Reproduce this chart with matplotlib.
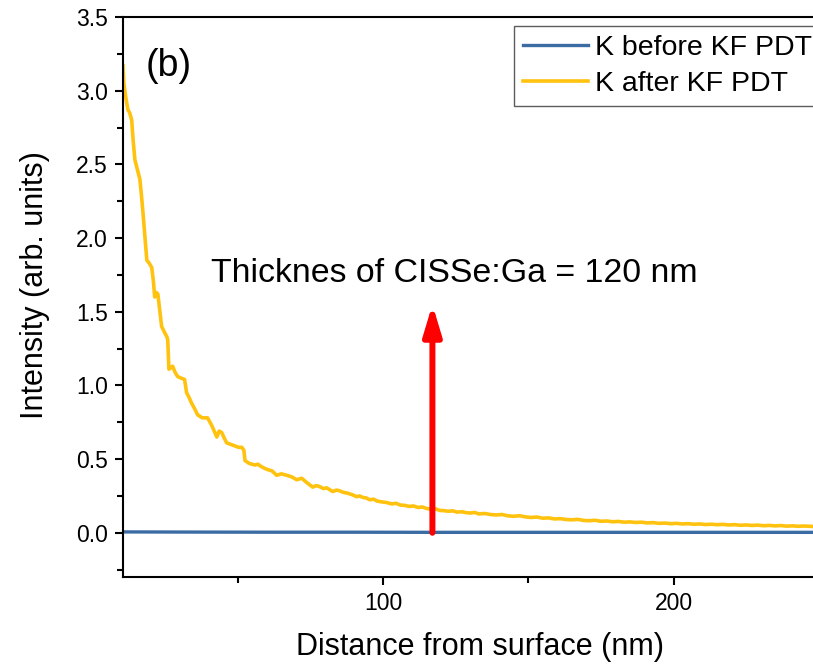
import matplotlib
matplotlib.use("Agg")
import matplotlib.pyplot as plt
from matplotlib.ticker import MultipleLocator, FormatStrFormatter

plt.rcParams['font.family'] = ['Liberation Sans', 'DejaVu Sans']

# K after KF PDT
x_after = [10.5, 10.8, 11.5, 12.2, 12.8, 13.5, 14.0, 14.6, 15.4, 16.3, 16.8, 17.3, 18.0,
           18.7, 19.5, 20.4, 21.0, 21.4, 22.0, 22.5, 23.2, 23.8, 24.8, 25.6, 25.9, 26.3,
           27.0, 27.6, 28.4, 29.3, 30.5, 31.7, 32.4, 33.2, 34.1, 35.2, 36.2, 37.8, 39.6,
           41.0, 42.8, 43.6, 44.5, 45.4, 46.2, 47.6, 49.0, 50.3, 51.4, 52.1, 52.5, 54.0,
           55.9, 57.0, 58.0, 59.0, 60.1, 61.8, 63.4, 65.0, 66.9, 68.5, 70.3, 72.0, 73.8,
           75.8, 77.0, 78.0, 79.5, 80.6, 82.7, 84.0, 85.0, 86.3, 87.5, 89.2, 90.9, 92.0,
           93.0, 94.3, 95.4, 96.8, 98.0, 99.5,
           101.3, 103.0, 104.5, 106.0, 107.5, 109.0, 110.5, 112.0, 113.5, 115.0, 116.5,
           118.0, 119.5, 121.0, 122.5, 124.0, 125.5, 127.0, 128.5, 130.0, 131.5, 133.0,
           135.0, 137.0, 139.0, 141.0, 143.0, 145.0, 147.0, 149.0, 151.0, 153.0, 155.0,
           157.0, 159.0, 161.0, 163.0, 165.0, 167.0, 169.0, 171.0, 173.0, 175.0, 177.0,
           179.0, 181.0, 183.0, 185.0, 187.0, 189.0, 191.0, 193.0, 195.0, 197.0, 199.0,
           201.0, 203.0, 205.0, 207.0, 209.0, 211.0, 213.0, 215.0, 217.0, 219.0, 221.0,
           223.0, 225.0, 227.0, 229.0, 231.0, 233.0, 235.0, 237.0, 239.0, 241.0, 243.0,
           245.0, 247.8]
y_after = [3.17, 3.05, 2.95, 2.87, 2.85, 2.80, 2.66, 2.53, 2.47, 2.40, 2.30, 2.19, 2.02,
           1.85, 1.83, 1.80, 1.70, 1.60, 1.63, 1.62, 1.50, 1.40, 1.36, 1.33, 1.31, 1.11,
           1.12, 1.13, 1.09, 1.06, 1.05, 1.04, 0.95, 0.92, 0.88, 0.84, 0.80, 0.78, 0.78,
           0.73, 0.65, 0.69, 0.68, 0.64, 0.61, 0.60, 0.59, 0.58, 0.58, 0.56, 0.49, 0.47,
           0.46, 0.465, 0.45, 0.44, 0.43, 0.42, 0.39, 0.40, 0.39, 0.38, 0.36, 0.37, 0.34,
           0.31, 0.32, 0.315, 0.30, 0.305, 0.28, 0.29, 0.285, 0.275, 0.27, 0.26, 0.245, 0.25,
           0.24, 0.236, 0.224, 0.228, 0.215, 0.21,
           0.205, 0.196, 0.200, 0.188, 0.186, 0.179, 0.182, 0.172, 0.175, 0.165, 0.160,
           0.163, 0.152, 0.150, 0.146, 0.149, 0.140, 0.143, 0.137, 0.134, 0.138, 0.128,
           0.131, 0.124, 0.121, 0.124, 0.115, 0.112, 0.116, 0.108, 0.104, 0.107, 0.099,
           0.101, 0.094, 0.096, 0.090, 0.088, 0.091, 0.084, 0.082, 0.085, 0.078, 0.080,
           0.075, 0.077, 0.072, 0.074, 0.070, 0.072, 0.067, 0.069, 0.064, 0.066, 0.062,
           0.064, 0.060, 0.062, 0.058, 0.060, 0.056, 0.058, 0.055, 0.057, 0.053, 0.055,
           0.051, 0.053, 0.050, 0.052, 0.048, 0.050, 0.047, 0.049, 0.045, 0.047, 0.044,
           0.046, 0.043]

# K before KF PDT
x_before = [10.5, 30.0, 60.0, 90.0, 120.0, 150.0, 180.0, 210.0, 247.8]
y_before = [0.006, 0.005, 0.004, 0.004, 0.003, 0.003, 0.003, 0.003, 0.003]

arrow_x = 117
arrow_y = (0.0, 1.55)
annotation = "Thicknes of CISSe:Ga = 120 nm"
panel = "(b)"

fig = plt.figure(figsize=(8.13, 6.65), dpi=100)
ax = fig.add_axes([123/813, 88/665, 1 - 123/813, (577-17)/665])

ax.plot(x_before, y_before, color='#3a6ca3', lw=2.4, label='K before KF PDT')
ax.plot(x_after, y_after, color='#ffc20e', lw=2.6, label='K after KF PDT')

ax.annotate('', xy=(arrow_x, arrow_y[1]), xytext=(arrow_x, arrow_y[0]),
            arrowprops=dict(arrowstyle='-|>,head_length=0.9,head_width=0.27',
                            color='#ff0000', lw=4.3, mutation_scale=20,
                            shrinkA=0, shrinkB=0))
ax.text(124.7, 1.76, annotation, fontsize=24.4, ha='center', va='center')
ax.text(26.3, 3.17, panel, fontsize=27, ha='center', va='center')

ax.set_xlim(10.5, 248)
ax.set_ylim(-0.3, 3.5)
ax.xaxis.set_major_locator(MultipleLocator(100))
ax.xaxis.set_minor_locator(MultipleLocator(50))
ax.yaxis.set_major_locator(MultipleLocator(0.5))
ax.yaxis.set_minor_locator(MultipleLocator(0.25))
ax.yaxis.set_major_formatter(FormatStrFormatter('%.1f'))

ax.spines['right'].set_visible(False)
for s in ['left', 'bottom', 'top']:
    ax.spines[s].set_linewidth(1.5)
ax.tick_params(which='major', direction='out', length=6, width=1.5, labelsize=16.5, pad=5)
ax.tick_params(which='minor', direction='out', length=4, width=1.5)

ax.set_xlabel('Distance from surface (nm)', fontsize=22)
ax.set_ylabel('Intensity (arb. units)', fontsize=22)
ax.xaxis.set_label_coords(0.517, -0.099)
ax.yaxis.set_label_coords(-0.106, 0.521)

leg = ax.legend(loc='upper left', bbox_to_anchor=(0.567, 0.984), fontsize=20.5,
                frameon=True, fancybox=False, edgecolor='#333333',
                handlelength=2.3, handletextpad=0.25, borderpad=0.3,
                labelspacing=0.38, borderaxespad=0)
leg.get_frame().set_linewidth(1.0)

fig.savefig('out.png', dpi=100)
